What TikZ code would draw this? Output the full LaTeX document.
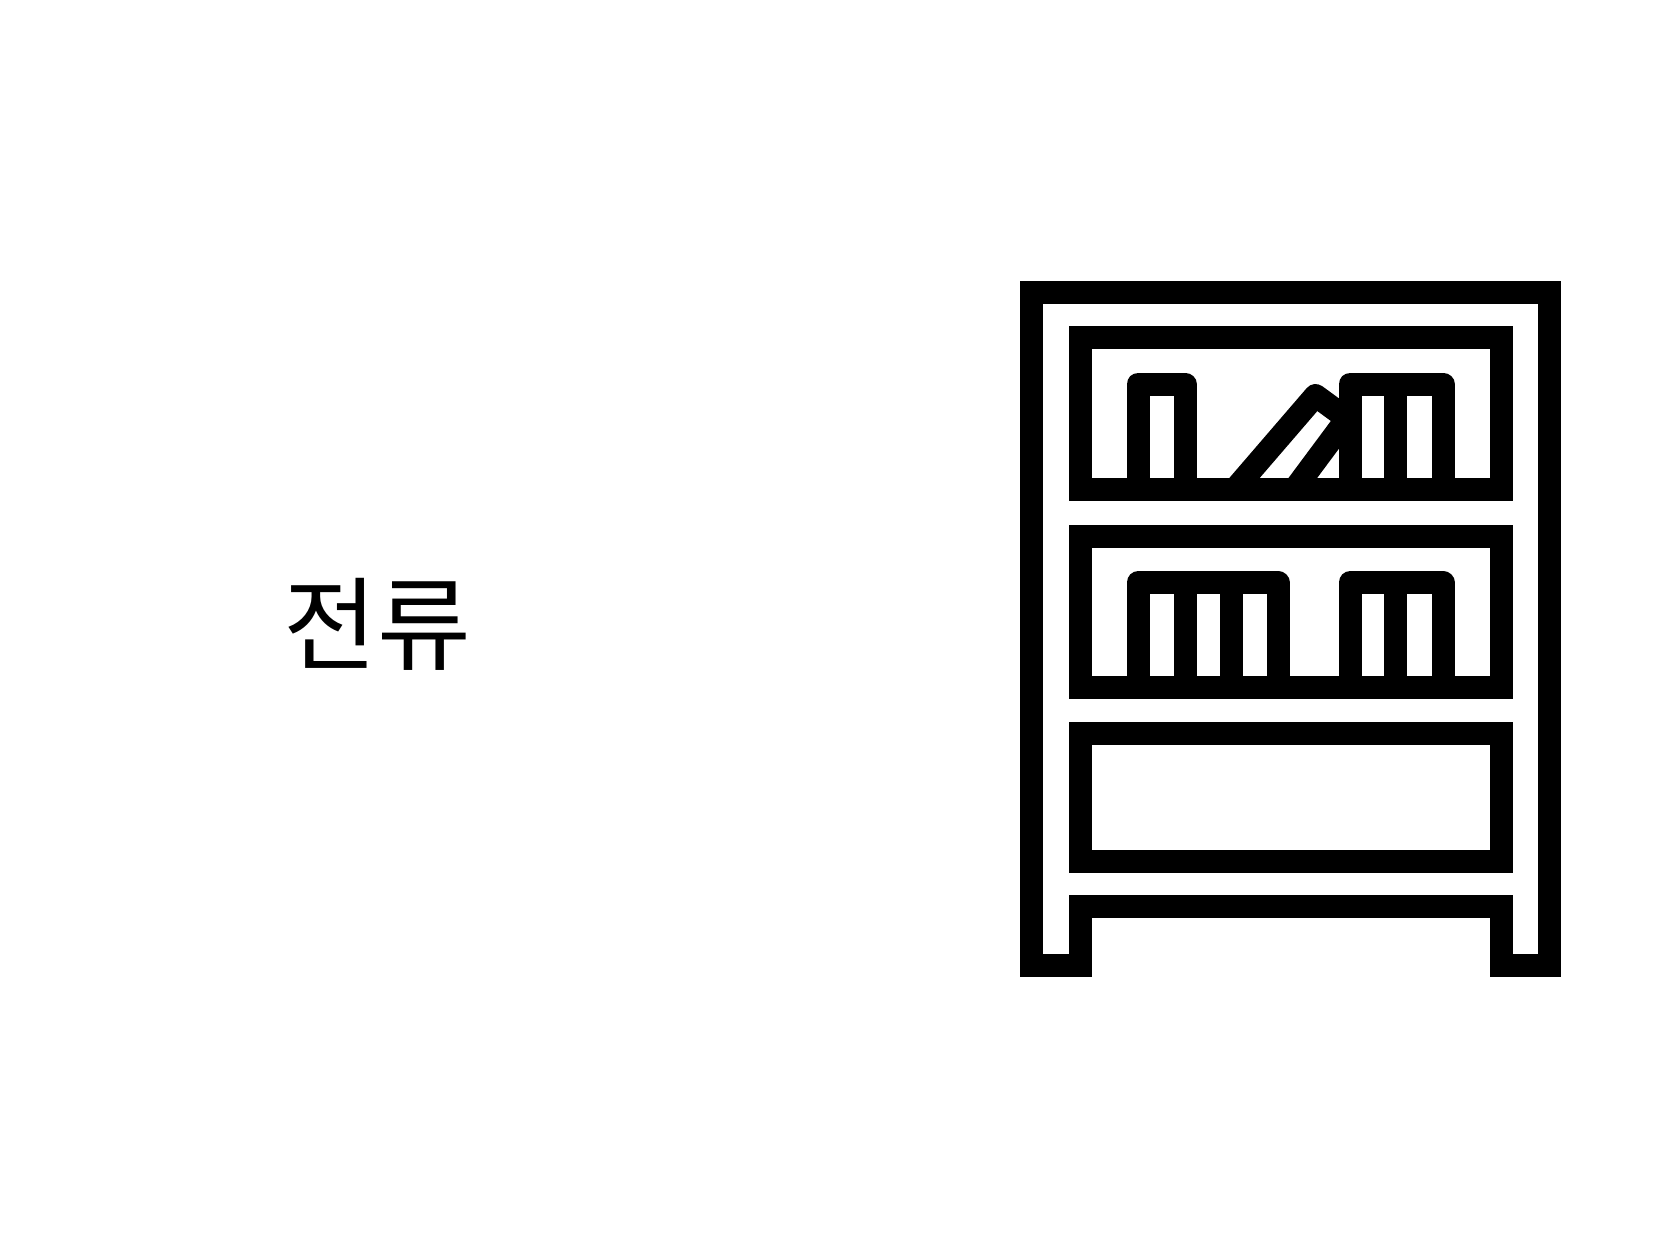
\documentclass[tikz,border=0pt]{standalone}
\usepackage{fontspec}
\newfontfamily\krfont{Noto Sans CJK KR}
\usetikzlibrary{positioning}

\begin{document}
\begin{tikzpicture}[x=0.01cm,y=-0.01cm]

            \tikzstyle{frameLine} = [line width=0.23cm, black, line join=miter];
            \tikzstyle{bookLine} = [line width=0.23cm, black, line join=round];

            \useasboundingbox (0,0) rectangle (1667,1250);

            \node (current) at (377.5,624) {\krfont\fontsize{29}{34}\selectfont 전류};

            % case with legs
            \draw[frameLine] (1031,965) -- (1031,292) -- (1549,292) -- (1549,965) -- (1501,965)
                -- (1501,906) -- (1080,906) -- (1080,965) -- cycle;

            % shelves
            \draw[frameLine] (1080,337.5) rectangle (1501,489);
            \draw[frameLine] (1080,536) rectangle (1501,687);
            \draw[frameLine] (1080,733) rectangle (1501,861);

            % top shelf
            \draw[bookLine] (1235,489) -- (1315.5,395.5) -- (1347,418.5) -- (1294.6,489);
            \draw[bookLine] (1138,489) -- (1138,384) -- (1185,384) -- (1185,489);
            \draw[bookLine] (1350,489) -- (1350,384) -- (1443,384) -- (1443,489);
            \draw[bookLine] (1395,384) -- (1395,489);

            % middle shelf
            \draw[bookLine] (1138,687) -- (1138,582.7) -- (1278,582.7) -- (1278,687);
            \draw[bookLine] (1185,582.7) -- (1185,687);
            \draw[bookLine] (1231,582.7) -- (1231,687);
            \draw[bookLine] (1350,687) -- (1350,582.7) -- (1443,582.7) -- (1443,687);
            \draw[bookLine] (1395,582.7) -- (1395,687);
          \end{tikzpicture}
\end{document}
